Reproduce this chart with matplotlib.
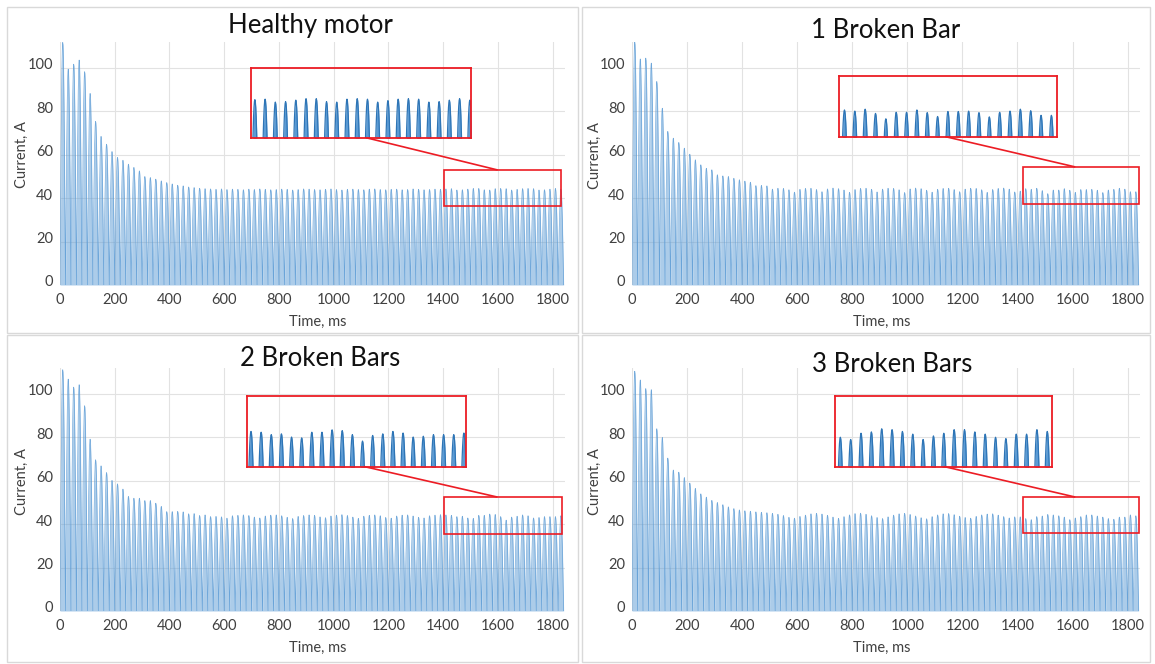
import numpy as np
import matplotlib
matplotlib.use("Agg")
import matplotlib.pyplot as plt
import matplotlib.transforms as mtransforms
from matplotlib.patches import Rectangle

plt.rcParams['font.family'] = ['Lato', 'DejaVu Sans']

# instantes de pico (ms) de la corriente rectificada, uno cada 20 ms
periodo = 20
t_pico = np.arange(92) * periodo + 10

# picos (A)
healthy = [111.8, 99.5, 101.8, 103.7, 98.3, 88.3, 75.4, 68.5, 64.9, 61.5,
           58.8, 57.5, 55.7, 54.2, 52.6, 50.0, 49.5, 48.8, 48.0, 47.2,
           46.6, 46.0, 45.7, 45.2, 44.9,
           44.6, 44.4, 44.3, 44.1, 44.3, 44.0, 44.2, 44.1, 43.9, 44.2,
           44.0, 44.3, 44.1, 43.9, 44.0, 44.2, 44.1, 43.8, 44.0, 44.3,
           44.2, 44.0, 43.9, 44.1, 44.3, 44.0, 43.8, 44.1, 44.2, 44.0,
           43.9, 44.2, 44.3, 44.0, 43.9, 44.1, 44.2, 43.9, 44.0, 44.3,
           44.1, 43.9, 44.0, 44.2, 44.1,
           44.3, 44.4, 43.8, 43.9, 44.2, 44.5, 44.5, 43.9, 43.8, 44.4,
           44.5, 44.4, 43.8, 44.1, 44.4, 44.5, 44.4, 43.8, 43.9, 44.2,
           44.5, 44.2]
bb1 = [112.0, 104.2, 104.6, 102.3, 93.8, 81.5, 70.8, 67.7, 65.7, 63.1,
       60.3, 57.7, 55.4, 53.8, 53.1, 50.8, 50.3, 50.0, 49.2, 48.5,
       47.9, 47.4, 45.8, 45.9, 45.7,
       44.2, 44.6, 44.5, 43.9, 42.8, 44.1, 44.5, 44.6, 44.0, 43.0,
       44.3, 44.7, 44.4, 43.8, 42.7, 44.0, 44.5, 44.6, 44.1, 42.9,
       44.2, 44.6, 44.5, 43.9, 42.6, 44.3, 44.7, 44.4, 43.7, 42.8,
       44.1, 44.5, 44.6, 44.0, 43.0, 44.2, 44.6, 44.5, 43.9, 42.7,
       44.0, 44.5, 44.7, 44.2, 42.9,
       43.3, 44.4, 44.1, 44.6, 43.5, 42.1, 43.8, 43.8, 44.4, 43.7,
       42.7, 44.0, 44.0, 44.1, 43.7, 42.6, 43.8, 44.1, 44.6, 44.2,
       43.0, 43.0]
bb2 = [111.2, 106.9, 103.2, 104.3, 94.6, 79.2, 69.7, 66.9, 63.8, 60.2,
       58.6, 56.2, 52.8, 52.0, 52.0, 50.9, 50.9, 49.7, 48.2, 45.8,
       45.8, 45.9, 45.7, 44.8, 44.9,
       44.0, 44.3, 43.5, 43.6, 43.4, 42.8, 43.9, 44.1, 44.3, 44.0, 43.3,
       42.9, 43.8, 44.2, 44.3, 43.9, 43.2, 42.6, 43.6, 44.0, 44.3, 44.1,
       43.4, 43.0, 43.8, 44.2, 44.4, 44.0, 43.3, 42.7, 43.7, 44.1, 44.3,
       43.9, 43.1, 42.8, 43.8, 44.2, 44.3, 43.8, 43.2, 42.9, 43.9, 44.2, 44.4,
       44.3, 44.1, 43.5, 43.7, 42.9, 42.7, 44.1, 44.1, 44.7, 44.5,
       43.5, 41.9, 43.3, 43.7, 44.3, 43.9, 42.9, 43.1, 43.5, 43.5,
       43.5, 43.9]
bb3 = [110.5, 106.5, 102.5, 102.0, 84.0, 80.0, 70.5, 65.0, 64.0, 61.5,
       59.0, 56.5, 54.0, 52.5, 51.0, 50.0, 49.0, 48.0, 47.2, 46.6,
       46.2, 46.0, 45.7, 45.5, 45.3,
       45.0, 44.6, 44.0, 43.2, 42.8, 43.6, 44.2, 44.8,
       45.0, 44.7, 44.1, 43.3, 42.7, 43.5, 44.3, 44.9,
       45.1, 44.6, 43.9, 43.1, 42.6, 43.4, 44.2, 44.8,
       45.0, 44.5, 43.8, 43.0, 42.5, 43.5, 44.3, 44.8,
       44.9, 44.4, 43.7, 43.1, 42.8, 43.6, 44.3, 44.7,
       44.8, 44.2, 43.5, 42.9, 43.4,
       43.4, 42.6, 42.1, 43.5, 43.8, 44.5, 44.3, 43.9, 43.3, 42.1,
       42.9, 43.5, 44.3, 44.3, 43.8, 43.3, 42.6, 42.3, 43.3, 43.3,
       44.3, 43.9]

titulos = ["Healthy motor", "1 Broken Bar", "2 Broken Bars", "3 Broken Bars"]
series = [healthy, bb1, bb2, bb3]

W, H = 1155, 664
AZUL = '#5b9bd5'
AZUL_OSCURO = '#2e75b6'
ROJO = '#ec1c24'
GRIS = '#404040'

# forma de medio ciclo usada para dibujar cada pulso
fase = np.linspace(0, 1, 25)
forma = np.sin(np.pi * fase)


def onda(picos):
    xs = (t_pico[:, None] - periodo / 2 + fase[None, :] * periodo).ravel()
    ys = (np.asarray(picos)[:, None] * forma[None, :]).ravel()
    return xs, ys


def px_rect(x0, y0, x1, y1):
    return [x0 / W, 1 - y1 / H, (x1 - x0) / W, (y1 - y0) / H]


# posicion de cada panel (px) y del recuadro / zoom en coordenadas de datos
paneles = [
    dict(ax=(60, 42, 565, 285), caja=(7, 7, 578, 333),
         rect=(1402, 36.5, 430, 16.6), inset=(697, 67.8, 804, 32.3),
         linea=((1121, 67.8), (1596, 53.1)), ylim_in=(36.5, 50.8),
         titulo=(310, 25), ylab=(22, 155), xlab=(318, 322)),
    dict(ax=(632, 42, 1140, 285), caja=(582, 7, 1150, 333),
         rect=(1419, 37.4, 421, 17.1), inset=(751, 68.3, 791, 28.1),
         linea=((1141, 68.3), (1607, 54.5)), ylim_in=(37.4, 53.3),
         titulo=(886, 30), ylab=(595, 156), xlab=(882, 322)),
    dict(ax=(60, 368, 565, 611), caja=(7, 335, 578, 662),
         rect=(1402, 35.5, 432, 17.1), inset=(683, 66.5, 800, 32.7),
         linea=((1114, 66.5), (1595, 52.6)), ylim_in=(35.5, 53.2),
         titulo=(320, 358), ylab=(22, 482), xlab=(318, 648)),
    dict(ax=(632, 368, 1140, 611), caja=(582, 335, 1150, 662),
         rect=(1419, 36.0, 421, 16.6), inset=(736, 66.5, 791, 32.7),
         linea=((1136, 66.5), (1607, 52.6)), ylim_in=(36.0, 51.9),
         titulo=(892, 365), ylab=(595, 482), xlab=(882, 648)),
]

fig = plt.figure(figsize=(W / 100, H / 100), dpi=100)
desplaza = mtransforms.ScaledTranslation(0, 3 / 72, fig.dpi_scale_trans)

for datos, titulo, cfg in zip(series, titulos, paneles):
    cx0, cy0, cx1, cy1 = cfg['caja']
    fig.add_artist(Rectangle((cx0 / W, 1 - cy1 / H), (cx1 - cx0) / W, (cy1 - cy0) / H,
                             transform=fig.transFigure, fill=False,
                             ec='#d9d9d9', lw=1))

    ax = fig.add_axes(px_rect(*cfg['ax']))
    x, y = onda(datos)
    ax.fill_between(x, y, color=AZUL, alpha=0.5, lw=0)
    ax.plot(x, y, color=AZUL, lw=0.5, alpha=0.85)
    ax.set_xlim(0, 1845)
    ax.set_ylim(0, 112)
    ax.set_xticks(range(0, 1801, 200))
    ax.set_yticks(range(0, 101, 20))
    ax.grid(color='#e2e2e2', lw=0.8)
    ax.set_axisbelow(True)
    for s in ax.spines.values():
        s.set_visible(False)
    ax.tick_params(length=0, labelsize=10.5, labelcolor=GRIS)
    ax.tick_params(axis='x', pad=6)
    ax.tick_params(axis='y', pad=5)
    for lbl in ax.get_yticklabels():
        lbl.set_transform(lbl.get_transform() + desplaza)

    # recuadro rojo sobre la zona ampliada
    rx, ry, rw, rh = cfg['rect']
    ax.add_patch(Rectangle((rx, ry), rw, rh, fill=False, ec=ROJO, lw=1.2, zorder=6,
                           clip_on=False))
    (x1, y1), (x2, y2) = cfg['linea']
    ax.plot([x1, x2], [y1, y2], color=ROJO, lw=1.2, clip_on=False, zorder=6)

    # ampliacion
    axi = ax.inset_axes(list(cfg['inset']), transform=ax.transData)
    axi.set_facecolor('none')
    axi.fill_between(x, y, color=AZUL, lw=0)
    axi.plot(x, y, color=AZUL_OSCURO, lw=0.9)
    axi.set_xlim(rx, rx + rw)
    axi.set_ylim(*cfg['ylim_in'])
    axi.set_xticks([])
    axi.set_yticks([])
    for s in axi.spines.values():
        s.set_color(ROJO)
        s.set_linewidth(1.3)

    tx, ty = cfg['titulo']
    fig.text(tx / W, 1 - ty / H, titulo, ha='center', va='center', fontsize=18.5,
             color='#111111')
    lx, ly = cfg['ylab']
    fig.text(lx / W, 1 - ly / H, "Current, A", rotation=90, ha='center',
             va='center', fontsize=10.5, color=GRIS)
    xx, xy = cfg['xlab']
    fig.text(xx / W, 1 - xy / H, "Time, ms", ha='center', va='center',
             fontsize=10.5, color=GRIS)

fig.savefig("out.png", dpi=100)
